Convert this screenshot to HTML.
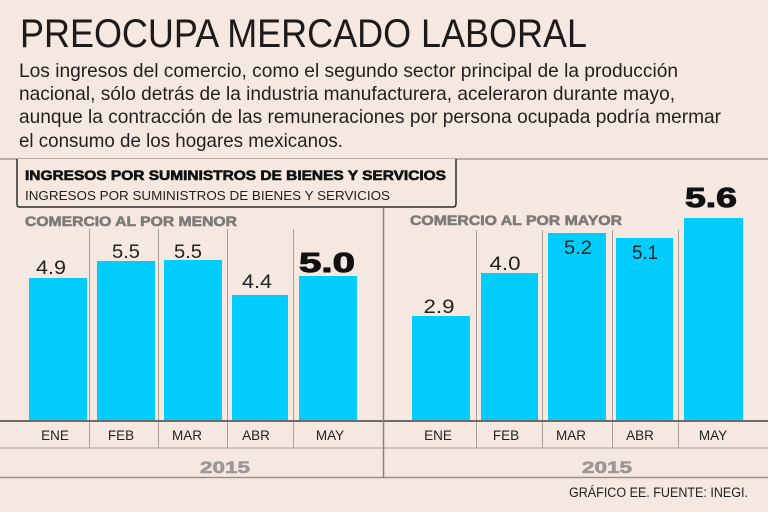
<!DOCTYPE html>
<html>
<head>
<meta charset="utf-8">
<style>
  html,body{margin:0;padding:0;background:#f5e8e0;}
  svg{display:block;}
  text{font-family:"Liberation Sans", sans-serif;}
</style>
</head>
<body>
<svg width="768" height="512" viewBox="0 0 768 512" xmlns="http://www.w3.org/2000/svg">
  <rect x="0" y="0" width="768" height="512" fill="#f5e8e0"/>

  <!-- Title -->
  <text x="20" y="47" font-size="40" fill="#1e1a1a" textLength="567" lengthAdjust="spacingAndGlyphs">PREOCUPA MERCADO LABORAL</text>

  <!-- Body -->
  <g font-size="19.5" fill="#231f1f">
    <text x="19" y="77" textLength="659" lengthAdjust="spacingAndGlyphs">Los ingresos del comercio, como el segundo sector principal de la producción</text>
    <text x="19" y="100" textLength="656" lengthAdjust="spacingAndGlyphs">nacional, sólo detrás de la industria manufacturera, aceleraron durante mayo,</text>
    <text x="19" y="123" textLength="702" lengthAdjust="spacingAndGlyphs">aunque la contracción de las remuneraciones por persona ocupada podría mermar</text>
    <text x="19" y="147" textLength="324" lengthAdjust="spacingAndGlyphs">el consumo de los hogares mexicanos.</text>
  </g>

  <!-- top rule -->
  <line x1="0" y1="159" x2="768" y2="159" stroke="#a39890" stroke-width="1.5"/>

  <!-- Box -->
  <path d="M17,159 L17,204 Q17,207 20,207 L453,207 Q456,207 456,204 L456,159" fill="#f5e8e0" stroke="#2e2a2a" stroke-width="1.5"/>
  <text x="25" y="180" font-size="13.5" font-weight="900" fill="#111" stroke="#111" stroke-width="0.6" textLength="421" lengthAdjust="spacingAndGlyphs">INGRESOS POR SUMINISTROS DE BIENES Y SERVICIOS</text>
  <text x="25" y="200" font-size="13" fill="#222" textLength="365" lengthAdjust="spacingAndGlyphs">INGRESOS POR SUMINISTROS DE BIENES Y SERVICIOS</text>

  <!-- Section labels -->
  <text x="25" y="226" font-size="14" font-weight="900" fill="#7d7a78" stroke="#7d7a78" stroke-width="0.6" textLength="212" lengthAdjust="spacingAndGlyphs">COMERCIO AL POR MENOR</text>
  <text x="410" y="225" font-size="14" font-weight="900" fill="#7d7a78" stroke="#7d7a78" stroke-width="0.6" textLength="212" lengthAdjust="spacingAndGlyphs">COMERCIO AL POR MAYOR</text>

  <!-- separators -->
  <g stroke="#a8a09a" stroke-width="1">
    <line x1="89.5" y1="229" x2="89.5" y2="448"/>
    <line x1="158.5" y1="229" x2="158.5" y2="448"/>
    <line x1="227.5" y1="229" x2="227.5" y2="448"/>
    <line x1="293.5" y1="229" x2="293.5" y2="448"/>
    <line x1="476.5" y1="230" x2="476.5" y2="448"/>
    <line x1="542.5" y1="230" x2="542.5" y2="448"/>
    <line x1="612.5" y1="230" x2="612.5" y2="448"/>
    <line x1="678.5" y1="230" x2="678.5" y2="448"/>
  </g>

  <!-- Bars -->
  <g fill="#00cdfc">
    <rect x="29" y="278" width="58" height="142"/>
    <rect x="97" y="261" width="58" height="159"/>
    <rect x="164" y="260" width="58" height="160"/>
    <rect x="232" y="295" width="56" height="125"/>
    <rect x="299" y="276" width="58" height="144"/>
    <rect x="412" y="316" width="58" height="104"/>
    <rect x="481" y="273" width="57" height="147"/>
    <rect x="548" y="233" width="58" height="187"/>
    <rect x="616" y="238" width="57" height="182"/>
    <rect x="684" y="218" width="59" height="202"/>
  </g>

  <!-- rules -->
  <line x1="0" y1="421" x2="768" y2="421" stroke="#6e6a68" stroke-width="2"/>
  <line x1="0" y1="448" x2="768" y2="448" stroke="#aaa29c" stroke-width="1"/>
  <line x1="0" y1="477.5" x2="768" y2="477.5" stroke="#9a928c" stroke-width="1.5"/>
  <line x1="383.5" y1="208" x2="383.5" y2="478" stroke="#8a8380" stroke-width="1.5"/>

  <!-- Value labels -->
  <g font-size="19" fill="#222" text-anchor="middle">
    <text x="51" y="274" textLength="30" lengthAdjust="spacingAndGlyphs">4.9</text>
    <text x="126" y="258" textLength="28" lengthAdjust="spacingAndGlyphs">5.5</text>
    <text x="188" y="258" textLength="28" lengthAdjust="spacingAndGlyphs">5.5</text>
    <text x="257" y="288" textLength="30" lengthAdjust="spacingAndGlyphs">4.4</text>
    <text x="439" y="313" textLength="31" lengthAdjust="spacingAndGlyphs">2.9</text>
    <text x="505" y="270" textLength="31" lengthAdjust="spacingAndGlyphs">4.0</text>
    <text x="578" y="254" textLength="28" lengthAdjust="spacingAndGlyphs">5.2</text>
    <text x="645" y="259" textLength="26" lengthAdjust="spacingAndGlyphs">5.1</text>
  </g>
  <g font-size="28" font-weight="900" fill="#111" stroke="#111" stroke-width="1" text-anchor="middle">
    <text x="327" y="272" textLength="56" lengthAdjust="spacingAndGlyphs">5.0</text>
    <text x="711" y="207" textLength="52" lengthAdjust="spacingAndGlyphs">5.6</text>
  </g>

  <!-- Month labels -->
  <g font-size="13.5" fill="#222" text-anchor="middle">
    <text x="55" y="440">ENE</text>
    <text x="121" y="440">FEB</text>
    <text x="187" y="440">MAR</text>
    <text x="256" y="440">ABR</text>
    <text x="330" y="440">MAY</text>
    <text x="438" y="440">ENE</text>
    <text x="506" y="440">FEB</text>
    <text x="571" y="440">MAR</text>
    <text x="640" y="440">ABR</text>
    <text x="713" y="440">MAY</text>
  </g>

  <!-- Year -->
  <g font-size="17" font-weight="900" fill="#9b9896" stroke="#9b9896" stroke-width="0.6" text-anchor="middle">
    <text x="225" y="473" textLength="50" lengthAdjust="spacingAndGlyphs">2015</text>
    <text x="607" y="473" textLength="50" lengthAdjust="spacingAndGlyphs">2015</text>
  </g>

  <!-- Credits -->
  <text x="569" y="497" font-size="13.5" fill="#222" textLength="179" lengthAdjust="spacingAndGlyphs">GRÁFICO EE. FUENTE: INEGI.</text>
</svg>
</body>
</html>
